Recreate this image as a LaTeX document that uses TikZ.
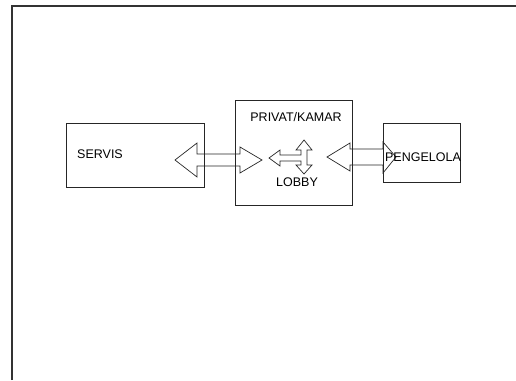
\documentclass[tikz,border=0pt]{standalone}
\usepackage{fontspec}
\setmainfont{Liberation Sans}
\usepackage{tikz}
\usetikzlibrary{positioning}

\tikzset{
  room/.style={draw=black!85, line width=0.8pt},
  blockarrow/.style={draw=black!85, line width=0.7pt},
  label/.style={inner sep=0pt, font=\fontsize{12.5}{14}\selectfont}
}

\begin{document}
\begin{tikzpicture}[x=1pt,y=-1pt]
  \useasboundingbox (0,0) rectangle (516,380);
  % page frame
  \draw[line width=1.2pt, black!80] (12,380) -- (12,6) -- (516,6);
  % rooms
  \draw[room] (66,123) rectangle (204,187);
  \draw[room] (235,100) rectangle (352,205);
  \draw[room] (383,123) rectangle (460,182);
  % servis <-> privat
  \draw[blockarrow] (175,160) -- (197,143) -- (197,154) -- (240,154) -- (240,147)
    -- (262,160) -- (240,173) -- (240,166) -- (197,166) -- (197,177) -- cycle;
  % lobby junction
  \draw[blockarrow] (269,158) -- (280,150) -- (280,155) -- (301,155) -- (301,150)
    -- (296,150) -- (304,140) -- (312,150) -- (307,150) -- (307,165) -- (312,165)
    -- (304,174) -- (296,165) -- (301,165) -- (301,161) -- (280,161) -- (280,166) -- cycle;
  % privat <-> pengelola
  \draw[blockarrow] (327,157) -- (350,143) -- (350,149) -- (383,149) -- (383,142)
    -- (396,157) -- (383,173) -- (383,165) -- (350,165) -- (350,171) -- cycle;
  % labels
  \node[label] (servis) at (100,154) {SERVIS};
  \node[label] (privat) at (296,117) {PRIVAT/KAMAR};
  \node[label] (lobby) at (297,182) {LOBBY};
  \node[label] (pengelola) at (423,157) {PENGELOLA};
\end{tikzpicture}
\end{document}
